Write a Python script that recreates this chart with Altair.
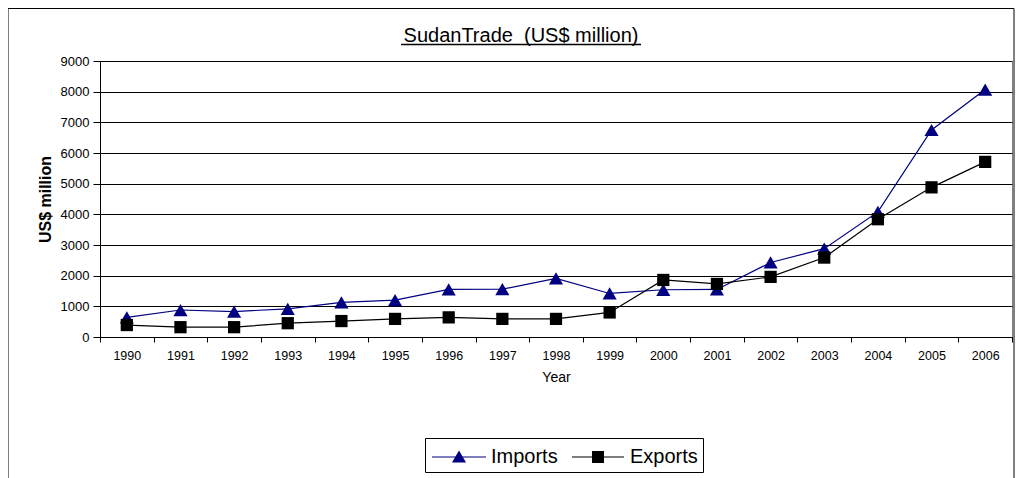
import altair as alt
import pandas as pd

years = [str(y) for y in range(1990, 2007)]
imports = [640, 880, 830, 920, 1130, 1200, 1550, 1560, 1910, 1420, 1540, 1550, 2430, 2880, 4080, 6750, 8070]
exports = [390, 320, 320, 450, 520, 590, 640, 590, 590, 800, 1860, 1730, 1960, 2590, 3840, 4880, 5710]
series = ["Imports", "Exports"]
colors = ["#000080", "#000000"]
shapes = ["triangle-up", "square"]
marker_sizes = [200, 150]
legend_shapes = [
    "M-2.08,-0.04H2.08V0.04H-2.08ZM0,-0.5L0.54,0.43L-0.54,0.43Z",
    "M-2.0,-0.04H2.0V0.04H-2.0ZM-0.46,-0.46H0.46V0.46H-0.46Z",
]
title_text = "SudanTrade \u00a0(US$ million)"

rows = []
for i, y in enumerate(years):
    rows.append({"Year": y, "Series": "Imports", "Value": imports[i]})
    rows.append({"Year": y, "Series": "Exports", "Value": exports[i]})
df = pd.DataFrame(rows)

FONT = "Liberation Sans"

x = alt.X("Year:N", sort=years,
          scale=alt.Scale(type="band", paddingInner=0, paddingOuter=0),
          axis=alt.Axis(title="Year", labelAngle=0, tickBand="extent", labelFontSize=12.5,
                        titleFontSize=14, titleFontWeight="normal", labelPadding=7,
                        titlePadding=9, tickSize=5, domainColor="black", tickColor="black",
                        labelColor="black", titleColor="black", labelFont=FONT, titleFont=FONT))
y = alt.Y("Value:Q", scale=alt.Scale(domain=[0, 9000]),
          axis=alt.Axis(title="US$ million", values=list(range(0, 9001, 1000)), format="d",
                        grid=True, gridColor="black", gridWidth=1, tickSize=7, labelFontSize=13,
                        labelPadding=4, titleFontSize=16, titleFontWeight="bold",
                        titleX=-55, titleY=138, titleAngle=-90, titleBaseline="middle",
                        titleAlign="center",
                        domainColor="black", tickColor="black", labelColor="black",
                        titleColor="black", labelFont=FONT, titleFont=FONT))

color_scale = alt.Scale(domain=series, range=colors)

lines = alt.Chart(df).mark_line(strokeWidth=1.2).encode(
    x=x, y=y, color=alt.Color("Series:N", scale=color_scale, legend=None), detail="Series:N")

points = alt.Chart(df).mark_point(filled=True, opacity=1).encode(
    x=x, y=y,
    color=alt.Color("Series:N", scale=color_scale, legend=None),
    shape=alt.Shape("Series:N", scale=alt.Scale(domain=series, range=shapes), legend=None),
    size=alt.Size("Series:N", scale=alt.Scale(domain=series, range=marker_sizes), legend=None),
)

legend = alt.Legend(title=None, orient="none", direction="horizontal", legendX=325, legendY=377,
                    symbolSize=676, labelFontSize=20, labelFont=FONT, labelColor="black",
                    strokeColor="black", fillColor="white", padding=5, symbolOffset=15,
                    labelOffset=18, columnPadding=11, symbolOpacity=1)

legend_layer = alt.Chart(df).transform_filter("false").mark_point(filled=True, size=676, opacity=1).encode(
    x=x, y=y,
    color=alt.Color("Series:N", scale=color_scale, legend=legend),
    shape=alt.Shape("Series:N", scale=alt.Scale(domain=series, range=legend_shapes), legend=legend),
)

frame = alt.Chart(alt.Data(values=[{"k": 1}])).mark_rect(
    fill="transparent", stroke="black", strokeWidth=1, clip=False).encode(
    x=alt.value(-92), x2=alt.value(914), y=alt.value(-52.5), y2=alt.value(430))

title = alt.Chart(alt.Data(values=[{"t": title_text}])).mark_text(
    font=FONT, fontSize=20, color="black", align="center", baseline="alphabetic").encode(
    text="t:N", x=alt.value(421), y=alt.value(-19))

underline = alt.Chart(alt.Data(values=[{"k": 1}])).mark_rule(color="black", strokeWidth=1.5).encode(
    x=alt.value(301), x2=alt.value(541), y=alt.value(-16.5))

chart = alt.layer(frame, lines, points, legend_layer, title, underline).resolve_scale(
    shape="independent", color="independent", size="independent"
).properties(
    width=912, height=276,
    autosize=alt.AutoSizeParams(type="none"),
    padding={"left": 92, "top": 53, "right": 3, "bottom": 141},
).configure_view(stroke="#808080", strokeWidth=1)

chart.save("out.html", embed_options={"renderer": "svg", "actions": False})
